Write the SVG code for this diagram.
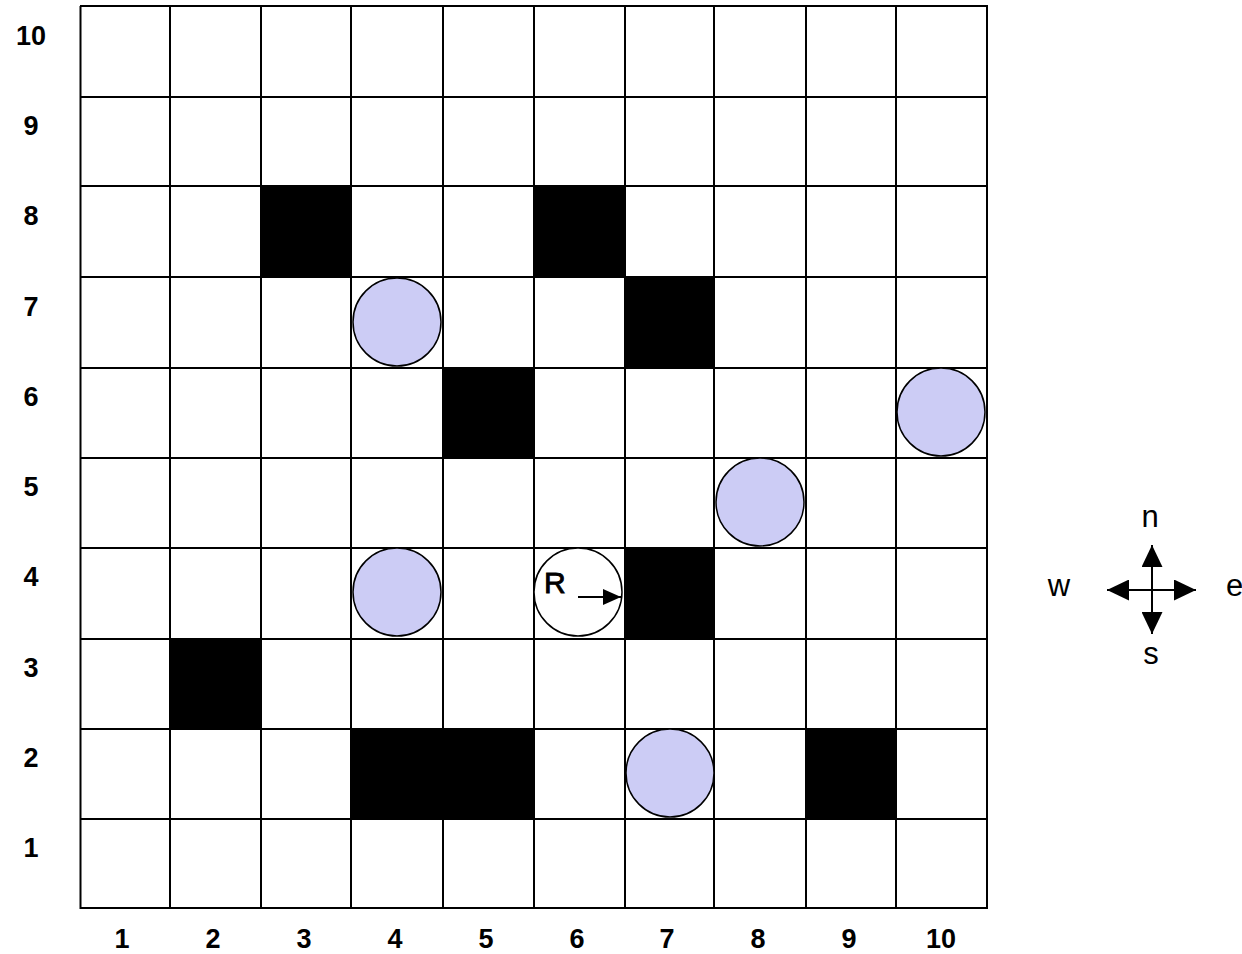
<svg xmlns="http://www.w3.org/2000/svg" width="1242" height="954" viewBox="0 0 1242 954">
<style>
.grid line{stroke:#000;stroke-width:2}
.blk{fill:#000}
.ball{fill:#ccccf5;stroke:#000;stroke-width:1.5}
.lbl{font-family:"Liberation Sans",Arial,sans-serif;font-weight:bold;font-size:27px;fill:#000;text-anchor:middle}
.cmp{font-family:"Liberation Sans",Arial,sans-serif;font-size:31px;fill:#000;text-anchor:middle}
.cl{stroke:#000;stroke-width:2}
</style>
<defs>
<marker id="ah" viewBox="0 0 10 10" refX="10" refY="5" markerWidth="18" markerHeight="16" markerUnits="userSpaceOnUse" orient="auto" preserveAspectRatio="none">
<path d="M0,0 L10,5 L0,10 Z" fill="#000"/>
</marker>
<marker id="ch" viewBox="0 0 10 10" refX="10" refY="5" markerWidth="22" markerHeight="21" markerUnits="userSpaceOnUse" orient="auto" preserveAspectRatio="none">
<path d="M0,0 L10,5 L0,10 Z" fill="#000"/>
</marker>
</defs>
<rect width="1242" height="954" fill="#fff"/>
<g id="obstacles">
<rect class="blk" x="261" y="186" width="90" height="91"/>
<rect class="blk" x="534" y="186" width="91" height="91"/>
<rect class="blk" x="625" y="277" width="89" height="91"/>
<rect class="blk" x="443" y="368" width="91" height="90"/>
<rect class="blk" x="625" y="548" width="89" height="91"/>
<rect class="blk" x="170" y="639" width="91" height="90"/>
<rect class="blk" x="351" y="729" width="183" height="90"/>
<rect class="blk" x="806" y="729" width="90" height="90"/>
</g>
<g class="grid" id="grid">
<line x1="80.5" y1="6" x2="80.5" y2="909"/>
<line x1="170" y1="6" x2="170" y2="909"/>
<line x1="261" y1="6" x2="261" y2="909"/>
<line x1="351" y1="6" x2="351" y2="909"/>
<line x1="443" y1="6" x2="443" y2="909"/>
<line x1="534" y1="6" x2="534" y2="909"/>
<line x1="625" y1="6" x2="625" y2="909"/>
<line x1="714" y1="6" x2="714" y2="909"/>
<line x1="806" y1="6" x2="806" y2="909"/>
<line x1="896" y1="6" x2="896" y2="909"/>
<line x1="987" y1="6" x2="987" y2="909"/>
<line x1="80" y1="6" x2="988" y2="6"/>
<line x1="80" y1="97" x2="988" y2="97"/>
<line x1="80" y1="186" x2="988" y2="186"/>
<line x1="80" y1="277" x2="988" y2="277"/>
<line x1="80" y1="368" x2="988" y2="368"/>
<line x1="80" y1="458" x2="988" y2="458"/>
<line x1="80" y1="548" x2="988" y2="548"/>
<line x1="80" y1="639" x2="988" y2="639"/>
<line x1="80" y1="729" x2="988" y2="729"/>
<line x1="80" y1="819" x2="988" y2="819"/>
<line x1="80" y1="908" x2="988" y2="908"/>
</g>
<g id="balls">
<circle class="ball" cx="397" cy="322" r="44"/>
<circle class="ball" cx="941" cy="412" r="44"/>
<circle class="ball" cx="760" cy="502" r="44"/>
<circle class="ball" cx="397" cy="592" r="44"/>
<circle class="ball" cx="670" cy="773" r="44"/>
</g>
<g id="robot">
<circle cx="578" cy="592" r="44" fill="#fff" stroke="#000" stroke-width="1.5"/>
<text x="544" y="593" style="font-family:'Liberation Sans',Arial,sans-serif;font-size:30px;fill:#000;stroke:#000;stroke-width:0.9">R</text>
<line x1="578" y1="597" x2="621" y2="597" class="cl" marker-end="url(#ah)"/>
</g>
<g id="row-labels" class="lbl">
<text x="31" y="45">10</text>
<text x="31" y="135">9</text>
<text x="31" y="225">8</text>
<text x="31" y="316">7</text>
<text x="31" y="406">6</text>
<text x="31" y="496">5</text>
<text x="31" y="586">4</text>
<text x="31" y="677">3</text>
<text x="31" y="767">2</text>
<text x="31" y="857">1</text>
</g>
<g id="col-labels" class="lbl">
<text x="122" y="948">1</text>
<text x="213" y="948">2</text>
<text x="304" y="948">3</text>
<text x="395" y="948">4</text>
<text x="486" y="948">5</text>
<text x="577" y="948">6</text>
<text x="667" y="948">7</text>
<text x="758" y="948">8</text>
<text x="849" y="948">9</text>
<text x="941" y="948">10</text>
</g>
<g id="compass">
<line x1="1152" y1="590" x2="1152" y2="545" class="cl" marker-end="url(#ch)"/>
<line x1="1152" y1="590" x2="1152" y2="634" class="cl" marker-end="url(#ch)"/>
<line x1="1152" y1="590" x2="1107" y2="590" class="cl" marker-end="url(#ch)"/>
<line x1="1152" y1="590" x2="1196" y2="590" class="cl" marker-end="url(#ch)"/>
<text class="cmp" x="1150" y="527">n</text>
<text class="cmp" x="1151" y="664">s</text>
<text class="cmp" x="1059" y="596">w</text>
<text class="cmp" x="1226" y="596" style="text-anchor:start">e</text>
</g>
</svg>
